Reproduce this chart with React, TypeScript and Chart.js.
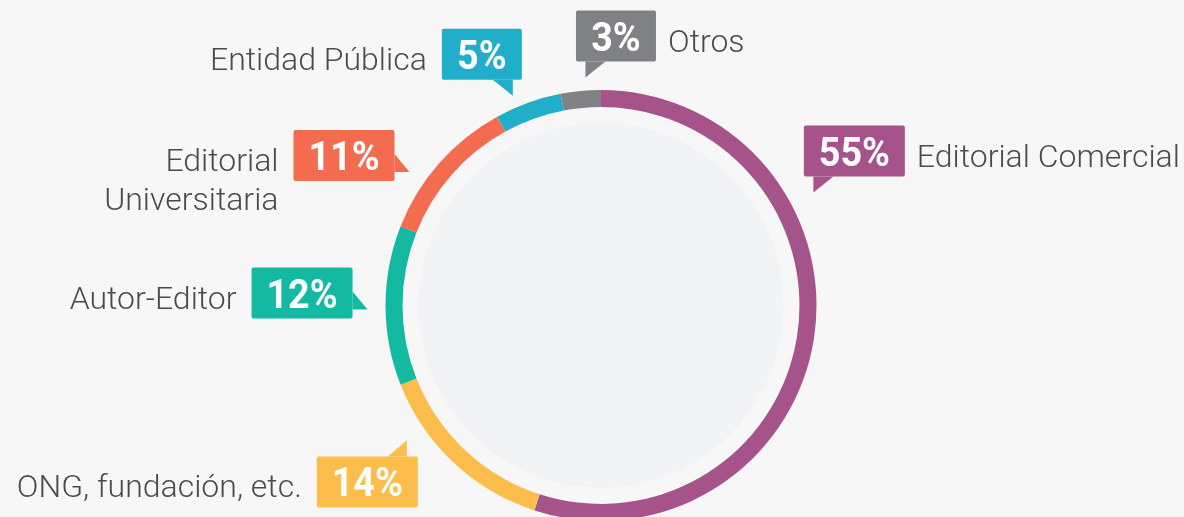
import React, { useEffect, useRef } from "react";
import { Chart, registerables } from "chart.js";

Chart.register(...registerables);

const categories = [
  "Editorial Comercial",
  "ONG, fundación, etc.",
  "Autor-Editor",
  "Editorial Universitaria",
  "Entidad Pública",
  "Otros",
];
const labelLines = [
  ["Editorial Comercial"],
  ["ONG, fundación, etc."],
  ["Autor-Editor"],
  ["Editorial", "Universitaria"],
  ["Entidad Pública"],
  ["Otros"],
];
const values = [55, 14, 12, 11, 5, 3];
const colors = ["#a6538c", "#fdbd4d", "#14b9a2", "#f36c50", "#21aecb", "#808184"];

// callout layout hints (tail side, angle nudge in degrees, gap beyond ring)
const tailSide = ["bl", "tr", "r", "r", "br", "bl"];
const angleNudge = [-37, 12, -1, -6.5, -3, 1.5];
const radialGap = [25, 21, 18, 18, 12, 13];

const BG = "#f7f7f7";
const INNER = "#f2f3f5";
const PCT_FONT = 'bold 41px Roboto';
const PCT_SCALE = 0.92;
const LABEL_FONT = '300 32px "Roboto Light", Roboto';

const calloutPlugin = {
  id: "callouts",
  beforeDatasetsDraw(chart: any) {
    const ctx = chart.ctx;
    const arc = chart.getDatasetMeta(0).data[0];
    if (!arc) return;
    const p = arc.getProps(["x", "y", "innerRadius"], true);
    ctx.save();
    ctx.fillStyle = INNER;
    ctx.beginPath();
    ctx.arc(p.x, p.y, p.innerRadius - 16, 0, Math.PI * 2);
    ctx.fill();
    ctx.restore();
  },
  afterDatasetsDraw(chart: any) {
    const ctx = chart.ctx;
    const meta = chart.getDatasetMeta(0);
    meta.data.forEach((el: any, i: number) => {
      const p = el.getProps(["x", "y", "startAngle", "endAngle", "outerRadius"], true);
      const mid = (p.startAngle + p.endAngle) / 2 + (angleNudge[i] * Math.PI) / 180;
      const r = p.outerRadius + radialGap[i];
      const tx = p.x + Math.cos(mid) * r;
      const ty = p.y + Math.sin(mid) * r;

      const pct = values[i] + "%";
      ctx.save();
      ctx.font = PCT_FONT;
      const tw = ctx.measureText(pct).width * PCT_SCALE;
      const bw = Math.round(tw + 30);
      const bh = 51;
      let bx = 0,
        by = 0;
      const tri: [number, number][] = [];
      const side = tailSide[i];
      if (side === "bl") {
        bx = tx - 9.5;
        by = ty - 16 - bh;
        tri.push([bx + 9.5, by + bh], [bx + 9.5, by + bh + 16], [bx + 29.5, by + bh]);
      } else if (side === "br") {
        bx = tx + 9 - bw;
        by = ty - 16 - bh;
        tri.push([bx + bw - 29, by + bh], [bx + bw - 9, by + bh + 16], [bx + bw - 9, by + bh]);
      } else if (side === "r") {
        bx = tx - 15 - bw;
        by = ty - 42;
        tri.push([bx + bw, by + 24], [bx + bw + 15, by + 42], [bx + bw, by + 42]);
      } else {
        bx = tx + 11 - bw;
        by = ty + 16;
        tri.push([bx + bw - 30, by], [bx + bw - 11, by - 16], [bx + bw - 11, by]);
      }
      ctx.fillStyle = colors[i];
      ctx.beginPath();
      if ((ctx as any).roundRect) (ctx as any).roundRect(bx, by, bw, bh, 2);
      else ctx.rect(bx, by, bw, bh);
      ctx.fill();
      ctx.beginPath();
      ctx.moveTo(tri[0][0], tri[0][1]);
      ctx.lineTo(tri[1][0], tri[1][1]);
      ctx.lineTo(tri[2][0], tri[2][1]);
      ctx.closePath();
      ctx.fill();

      ctx.fillStyle = "#ffffff";
      ctx.textAlign = "center";
      ctx.textBaseline = "alphabetic";
      ctx.save();
      ctx.translate(bx + bw / 2, by + 40);
      ctx.scale(PCT_SCALE, 1);
      ctx.fillText(pct, 0, 0);
      ctx.restore();

      ctx.font = LABEL_FONT;
      ctx.fillStyle = "#4a4a4a";
      ctx.textBaseline = "alphabetic";
      const lines = labelLines[i];
      const rightSide = side === "bl";
      ctx.textAlign = rightSide ? "left" : "right";
      const lx = rightSide ? bx + bw + 12 : bx - 15;
      lines.forEach((ln, k) => {
        ctx.fillText(ln, lx, by + 41 + k * 39);
      });
      ctx.restore();
    });
  },
};

export default function App() {
  const ref = useRef<HTMLCanvasElement | null>(null);
  useEffect(() => {
    document.body.style.margin = "0";
    document.body.style.background = BG;
    const canvas = ref.current;
    if (!canvas) return;
    const chart = new Chart(canvas, {
      type: "doughnut",
      data: {
        labels: categories,
        datasets: [
          {
            data: values,
            backgroundColor: colors,
            borderWidth: 0,
          },
        ],
      },
      options: {
        animation: false,
        responsive: false,
        devicePixelRatio: 1,
        cutout: "92.1%",
        layout: { padding: { left: 385.5, right: 367.5, top: 90, bottom: 19 } },
        plugins: { legend: { display: false }, tooltip: { enabled: false } },
        events: [],
      },
      plugins: [calloutPlugin],
    });
    return () => chart.destroy();
  }, []);
  return (
    <div
      style={{
        position: "absolute",
        left: 0,
        top: 0,
        width: 1184,
        height: 517,
        overflow: "hidden",
        background: BG,
      }}
    >
      <canvas ref={ref} width={1184} height={540} style={{ display: "block" }} />
    </div>
  );
}
